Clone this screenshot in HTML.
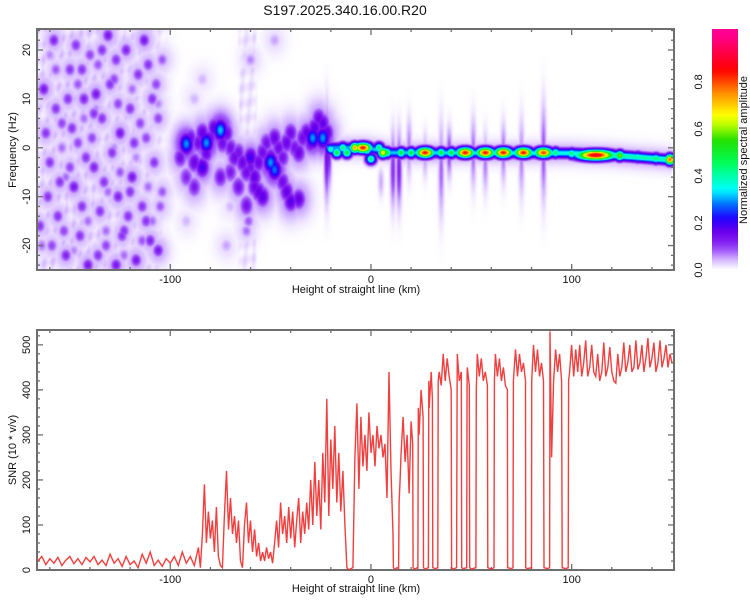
<!DOCTYPE html>
<html><head><meta charset="utf-8">
<style>
html,body{margin:0;padding:0;background:#fff;}
#wrap{position:relative;width:750px;height:600px;overflow:hidden;font-family:"Liberation Sans",sans-serif;}
#spec{position:absolute;left:37px;top:29px;}
#ov{position:absolute;left:0;top:0;}
</style></head>
<body>
<div id="wrap">
<canvas id="spec" width="637" height="241"></canvas>
<svg id="ov" width="750" height="600" xmlns="http://www.w3.org/2000/svg">
<defs><linearGradient id="cbg" x1="0" y1="1" x2="0" y2="0"></linearGradient></defs>
<text x="345" y="15" font-size="14" text-anchor="middle" fill="#111">S197.2025.340.16.00.R20</text>
<g id="topAxes"></g>
<g id="botAxes"></g>
<polyline id="snrLine" fill="none" stroke="#ee2a2a" stroke-width="1.4" stroke-opacity="0.9"></polyline>
<rect x="712" y="29" width="26" height="241" fill="url(#cbg)"></rect>
<g id="cbAxis"></g>
<text x="0" y="0" font-size="11" text-anchor="middle" transform="translate(356,293)" fill="#111">Height of straight line (km)</text>
<text x="0" y="0" font-size="11" text-anchor="middle" transform="translate(356,592)" fill="#111">Height of straight line (km)</text>
<text x="0" y="0" font-size="11" text-anchor="middle" transform="translate(16,150) rotate(-90)" fill="#111">Frequency (Hz)</text>
<text x="0" y="0" font-size="11" text-anchor="middle" transform="translate(16,450) rotate(-90)" fill="#111">SNR (10 * v/v)</text>
<text x="0" y="0" font-size="11" text-anchor="middle" transform="translate(747,150) rotate(-90)" fill="#111">Normalized spectral amplitude</text>
</svg>
</div>
<script>
// ---------- data ----------
const xTicks = [-100, 0, 100];
const freqTicks = [-20, -10, 0, 10, 20];
const snrTicks = [0, 100, 200, 300, 400, 500];
const cbTicks = [0.0, 0.2, 0.4, 0.6, 0.8];
// noise spots (km, Hz, amplitude)
const noiseX = [-163,-160,-158,-156,-154,-152,-150,-148,-146,-145,-143,-141,-140,-138,-137,-135,-134,-132,-131,-129,-128,-126,-125,-123,-122,-120,-119,-117,-116,-114,-113,-112,-110,-109,-108,-106,-106,-104,-161,-157,-153,-149,-144,-139,-133,-127,-121,-115,-111,-147,-142,-136,-130,-124,-118,-162,-155,-151,-127,-107,-165,-159,-144,-134,-120,-112,-104,-150,-138,-126,-164,-157,-152,-146,-141,-136,-131,-125,-119,-114,-109,-105,-160,-154,-148,-143,-137,-132,-128,-123,-117,-111,-106,-92,-84,-72,-62,-60,-48,-96,-88,-70,-61];
const noiseF = [12,-3,22,-14,5,-22,16,-8,1,-18,10,-24,19,-4,11,-13,6,-20,23,-1,14,-10,3,-17,20,8,-6,-23,15,-12,22,2,-19,10,-3,-21,6,-9,-10,8,-17,4,-12,2,-7,18,-14,5,17,21,-2,-22,13,-18,1,3,-7,10,-24,13,-16,-20,16,20,-9,-15,18,-4,7,9,-20,16,-6,13,-15,17,-9,-5,12,-19,-15,-12,19,0,-21,6,8,-17,0,-22,-2,-8,9,-15,14,-20,-17,18,22,-4,10,-12,-15,-10];
const noiseA = [.12,.1,.11,.1,.09,.11,.1,.12,.09,.1,.11,.12,.09,.11,.12,.1,.1,.09,.12,.1,.09,.11,.12,.1,.11,.1,.12,.12,.1,.1,.12,.09,.11,.1,.1,.12,.09,.08,.1,.1,.09,.1,.1,.09,.1,.1,.1,.09,.1,.1,.1,.1,.1,.1,.1,.1,.1,.1,.12,.09,.1,.09,.1,.1,.1,.1,.08,.09,.1,.09,.07,.08,.07,.08,.07,.08,.07,.08,.07,.08,.07,.08,.06,.07,.06,.07,.06,.07,.06,.07,.06,.07,.06,.04,.04,.05,.07,.06,.05,.04,.04,.04,.08];
// background floor by km
const floorKm = [-166,-150,-130,-110,-104,-100,-98,-67,-65,-58,-56,-40,-22,-20,150];
const floorA  = [.04,.045,.04,.035,.025,.005,0,0,.03,.03,0,0,0,0,0];
// ridge region blobs (km, Hz, amplitude)
const ridgeX = [-95,-92,-90,-88,-86,-84,-82,-80,-78,-76,-74,-72,-70,-68,-66,-64,-62,-60,-58,-56,-54,-52,-50,-48,-46,-44,-42,-40,-38,-36,-34,-32,-30,-28,-26,-24,-22,-58,-56,-54,-44,-42,-40,-36,-92,-88,-75,-70,-66,-62,-92,-82,-75,-50,-48,-29,-24,-84,-60];
const ridgeF = [-2,0,2,-3,1,3,-1,2,4,3,1,3,0,-2,-1,-3,-5,-4,-6,-3,-1,1,-2,2,0,-2,1,3,0,-1,2,3,1,4,6,5,3,-8,-9,-10,-7,-9,-11,-10.5,-6,-8,-6,-5,-8,-11.8,0.8,1,3.6,-3,-4.5,2,2,-4,-2];
const ridgeA = [.14,.17,.15,.16,.15,.17,.16,.15,.18,.17,.15,.16,.14,.15,.14,.16,.15,.14,.17,.16,.15,.14,.17,.16,.15,.14,.16,.15,.14,.16,.15,.17,.16,.18,.16,.17,.18,.16,.17,.18,.15,.17,.18,.17,.12,.13,.14,.13,.14,.14,.3,.3,.32,.3,.28,.3,.3,.2,.2];
// main ridge band
const bandKm = [-22,-2,10,100,120,150];
const bandF  = [0,0,-1,-1.1,-1.5,-2.5];
const bandA  = [.3,.32,.32,.36,.4,.4];
// main ridge peaks
const peakX = [-20,-17,-14,-12,-8,-4,-2,0,4,6,8,15,20,27,35,40,47,57,66,76,86,92,100,112,124,133,142,149];
const peakF = [-0.3,-1,0,-1,0,0,-0.5,-2.3,0,-1,-1,-1,-1,-1,-1,-1,-1,-1,-1,-1,-1,-1,-1.2,-1.5,-1.6,-1.9,-2.2,-2.4];
const peakA = [.4,.5,.45,.5,.75,.85,.45,.45,.45,.7,.5,.5,.5,.85,.5,.5,.85,.85,.85,.85,.82,.45,.45,.9,.6,.4,.45,.8];
// vertical streaks (km, Hz low, Hz high, amplitude)
const streakX = [-22,-21,5,11,14,19,27,35,39,51,57,66,75,86];
const streakLo = [-10,-8,-10,-12,-12,-6,-6,-14,-6,-8,-9,-7,-10,-11];
const streakHi = [8,6,-4,3,3,6,3,5,4,6,3,5,6,9];
const streakA = [.15,.13,.05,.11,.12,.07,.06,.08,.1,.08,.07,.08,.07,.09];
// SNR trace
const snrKm = [-166,-164,-162,-160,-158,-156,-154,-152,-150,-148,-146,-144,-142,-140,-138,-136,-134,-132,-130,-128,-126,-124,-122,-120,-118,-116,-114,-112,-110,-108,-106,-104,-102,-100,-98,-96,-94,-92,-90,-88,-86,-85,-84,-83,-82,-81,-80,-79,-78,-77,-76,-75,-74,-73,-72,-71,-70,-69,-68,-67,-66,-65,-64,-63,-62,-61,-60,-59,-58,-57,-56,-55,-54,-53,-52,-51,-50,-49,-48,-47,-46,-45,-44,-43,-42,-41,-40,-39,-38,-37,-36,-35,-34,-33,-32,-31,-30,-29,-28,-27,-26,-25,-24,-23,-22,-21,-20,-19,-18,-17,-16,-15,-14,-13,-12,-11,-10,-9,-8,-7,-6,-5,-4,-3,-2,-1,0,1,2,3,4,5,6,7,8,9,10,11,11.2,12,13,13.8,14,14.5,15,16,17,18,19,20,20.8,21,22,23,23.4,23.6,24,25,26,26.2,27,28,28.6,28.8,29,30,30.6,30.8,32,33.3,33.5,34,35,36,37,38,39,40,40.2,41,42.7,42.9,43,44,45,45.2,46,47.7,47.9,48,49,49.2,50,52.3,52.5,53,54,55,56,57,58,58.2,60,61.3,61.5,62,63,64,65,66,67,68,68.1,70,70.8,71,72,73,74,75,76,77,77.1,78,80,80.1,81,82,83,84,85,86,86.2,88,89,89.2,90,91,92,93,94,95,95.3,97,98.3,98.5,99,100,101,102,103,104,105,106,107,108,109,110,111,112,113,114,115,116,117,118,119,120,121,122,123,124,125,126,127,128,129,130,131,132,133,134,135,136,137,138,139,140,141,142,143,144,145,146,147,148,149,150];
const snrVal = [20,30,12,25,15,28,10,22,30,14,25,12,28,18,30,12,22,10,35,15,25,8,30,12,20,5,35,15,40,10,22,8,25,15,30,10,40,15,30,10,50,5,80,190,60,130,70,110,40,140,30,10,5,120,220,90,160,80,120,60,110,20,5,100,150,60,110,40,90,30,60,20,40,20,50,25,40,15,60,110,50,150,80,120,60,140,70,130,50,110,160,60,130,80,150,90,200,100,240,120,200,90,260,150,380,120,290,180,320,150,260,130,220,100,5,0,3,5,250,370,180,340,230,300,220,350,260,300,230,320,270,300,250,280,160,440,220,80,5,2,5,3,150,200,260,340,240,300,170,330,280,5,2,5,4,360,300,400,340,5,2,4,5,420,360,440,380,5,3,5,420,440,410,480,420,470,430,400,5,2,5,400,480,420,440,5,3,5,430,450,410,5,2,5,400,480,430,470,420,440,410,5,2,5,420,480,430,470,420,450,410,400,5,3,5,420,490,430,480,440,460,420,5,3,5,420,500,440,490,430,460,420,5,3,5,530,250,420,490,440,480,420,5,3,5,420,440,500,430,490,440,500,430,460,510,430,450,500,440,430,480,420,440,505,430,450,495,440,420,415,480,430,450,505,440,460,500,440,450,510,445,460,500,440,470,515,450,470,505,440,460,510,450,470,500,450,480,460];

// ---------- scales ----------
const L = 37, R = 674, W = R - L;
const TT = 29, TB = 270, BT = 330, BB = 570;
const X0 = -166.4, X1 = 151.0;
const F0 = -25.0, F1 = 24.3;
const S0 = 0, S1 = 533;
const xs = k => L + (k - X0) / (X1 - X0) * W;
const fy = f => TB - (f - F0) / (F1 - F0) * (TB - TT);
const sy = s => BB - (s - S0) / (S1 - S0) * (BB - BT);

// ---------- colormap ----------
const cmStops = [[0,[255,255,255]],[0.02,[236,223,255]],[0.05,[205,170,255]],[0.08,[165,95,250]],[0.12,[130,30,240]],[0.16,[110,0,235]],[0.22,[32,0,255]],[0.28,[0,112,255]],[0.34,[0,255,255]],[0.45,[0,255,96]],[0.55,[32,224,0]],[0.62,[192,255,0]],[0.66,[255,255,0]],[0.75,[255,144,0]],[0.85,[255,0,0]],[1.0,[255,0,144]]];
function cmap(v){
  if (v <= 0) return cmStops[0][1];
  for (let i = 1; i < cmStops.length; i++) {
    if (v <= cmStops[i][0]) {
      const a = cmStops[i-1], b = cmStops[i], t = (v - a[0]) / (b[0] - a[0]);
      return [0,1,2].map(j => Math.round(a[1][j] + (b[1][j] - a[1][j]) * t));
    }
  }
  return cmStops[cmStops.length-1][1];
}
function interp(xsArr, ysArr, x){
  if (x <= xsArr[0]) return ysArr[0];
  for (let i = 1; i < xsArr.length; i++) if (x <= xsArr[i]) {
    const t = (x - xsArr[i-1]) / (xsArr[i] - xsArr[i-1]); return ysArr[i-1] + (ysArr[i] - ysArr[i-1]) * t;
  }
  return ysArr[ysArr.length-1];
}

// ---------- spectrogram ----------
(function(){
  const cv = document.getElementById('spec'), ctx = cv.getContext('2d');
  const CW = cv.width, CH = cv.height;
  const field = new Float32Array(CW*CH);
  const kmAt = i => X0 + (i + 0.5) / CW * (X1 - X0);
  const hzAt = j => F1 - (j + 0.5) / CH * (F1 - F0);
  function blob(k, f, a, sxKm, syHz){
    const cx = xs(k) - L, cy = fy(f) - TT;
    const sxp = sxKm / (X1 - X0) * CW, syp = syHz / (F1 - F0) * CH;
    const i0 = Math.max(0, Math.floor(cx - 3*sxp)), i1 = Math.min(CW-1, Math.ceil(cx + 3*sxp));
    const j0 = Math.max(0, Math.floor(cy - 3*syp)), j1 = Math.min(CH-1, Math.ceil(cy + 3*syp));
    for (let j = j0; j <= j1; j++) {
      const dy = (j + 0.5 - cy) / syp;
      for (let i = i0; i <= i1; i++) {
        const dx = (i + 0.5 - cx) / sxp;
        const v = a * Math.exp(-0.5*(dx*dx + dy*dy));
        const id = j*CW + i; if (v > field[id]) field[id] = v;
      }
    }
  }
  for (let i = 0; i < CW; i++) {
    const fa = interp(floorKm, floorA, kmAt(i));
    for (let j = 0; j < CH; j++) {
      const m = 0.55 + 0.45*Math.cos(j*0.23 + i*0.41) * Math.cos(j*0.17 - i*0.31);
      field[j*CW+i] = fa * m;
    }
  }
  for (let n = 0; n < noiseX.length; n++) { blob(noiseX[n], noiseF[n], noiseA[n]*0.5, 4.0, 2.2); blob(noiseX[n], noiseF[n], noiseA[n]*1.1, 2.0, 1.0); }
  for (let n = 0; n < ridgeX.length; n++) { blob(ridgeX[n], ridgeF[n], ridgeA[n]*0.45, 4.5, 2.8); blob(ridgeX[n], ridgeF[n], ridgeA[n], 2.4, 1.5); }
  for (let n = 0; n < streakX.length; n++) blob(streakX[n], (streakLo[n]+streakHi[n])/2, streakA[n], 1.0, (streakHi[n]-streakLo[n])/3);
  for (let i = 0; i < CW; i++) {
    const k = kmAt(i); if (k < bandKm[0] || k > bandKm[bandKm.length-1]) continue;
    const bf = interp(bandKm, bandF, k), ba = interp(bandKm, bandA, k);
    for (let j = 0; j < CH; j++) {
      const d = hzAt(j) - bf;
      const v = Math.max(ba*Math.exp(-0.5*(d/0.7)**2), 0.06*Math.exp(-0.5*(d/1.6)**2));
      const id = j*CW+i; if (v > field[id]) field[id] = v;
    }
  }
  for (let n = 0; n < peakX.length; n++) {
    const sx = (peakX[n] === 112) ? 7 : (peakA[n] > 0.8 ? 3.2 : 1.8);
    blob(peakX[n], peakF[n], peakA[n], sx, 0.75);
  }
  const img = ctx.createImageData(CW, CH);
  for (let p = 0; p < CW*CH; p++) {
    const c = cmap(field[p]);
    img.data[p*4] = c[0]; img.data[p*4+1] = c[1]; img.data[p*4+2] = c[2]; img.data[p*4+3] = 255;
  }
  ctx.putImageData(img, 0, 0);
})();

// ---------- axes ----------
const NS = 'http://www.w3.org/2000/svg';
function mk(tag, attrs, parent){ const e = document.createElementNS(NS, tag); for (const k in attrs) e.setAttribute(k, attrs[k]); parent.appendChild(e); return e; }
function frame(g, top, bot, name){
  const r = mk('rect', {x:L, y:top, width:W, height:bot-top, fill:'none', stroke:'#6e6e6e', 'stroke-width':2}, g);
  
  
  for (let k = -160; k <= 140; k += 20) {
    const x = xs(k), len = (k % 100 === 0) ? 6 : 3;
    mk('line', {x1:x, y1:bot, x2:x, y2:bot-len, stroke:'#6e6e6e', 'stroke-width':1.3}, g);
    mk('line', {x1:x, y1:top, x2:x, y2:top+len, stroke:'#6e6e6e', 'stroke-width':1.3}, g);
  }
  xTicks.forEach(k => {
    const t = mk('text', {x:xs(k), y:bot+13, 'font-size':11, 'text-anchor':'middle', fill:'#111'}, g);
    t.textContent = k;
    
    
  });
}
const tg = document.getElementById('topAxes');
frame(tg, TT, TB, 'spectrogram-frame');
for (let f = -24; f <= 24; f += 2) {
  const y = fy(f), len = (f % 10 === 0) ? 6 : 3;
  mk('line', {x1:L, y1:y, x2:L+len, y2:y, stroke:'#6e6e6e', 'stroke-width':1.3}, tg);
  mk('line', {x1:R, y1:y, x2:R-len, y2:y, stroke:'#6e6e6e', 'stroke-width':1.3}, tg);
}
freqTicks.forEach(f => {
  const t = mk('text', {x:0, y:0, 'font-size':11, 'text-anchor':'middle', fill:'#111', transform:`translate(30,${fy(f)}) rotate(-90)`}, tg);
  t.textContent = f;
  
  
});
const bg = document.getElementById('botAxes');
frame(bg, BT, BB, 'snr-frame');
for (let s = 0; s <= 520; s += 20) {
  const y = sy(s), len = (s % 100 === 0) ? 6 : 3;
  mk('line', {x1:L, y1:y, x2:L+len, y2:y, stroke:'#6e6e6e', 'stroke-width':1.3}, bg);
  mk('line', {x1:R, y1:y, x2:R-len, y2:y, stroke:'#6e6e6e', 'stroke-width':1.3}, bg);
}
snrTicks.forEach(s => {
  const t = mk('text', {x:0, y:0, 'font-size':11, 'text-anchor':'middle', fill:'#111', transform:`translate(30,${sy(s)}) rotate(-90)`}, bg);
  t.textContent = s;
  
  
});

document.getElementById('snrLine').setAttribute('points', snrKm.map((k,i) => xs(k).toFixed(1) + ',' + sy(snrVal[i]).toFixed(1)).join(' '));

const cbTop = 29, cbBot = 270, cbMax = 1.025;
const grad = document.getElementById('cbg');
for (let n = 0; n <= 50; n++) {
  const v = n/50*cbMax, c = cmap(Math.min(v, 1));
  mk('stop', {offset:(n/50).toFixed(3), 'stop-color':`rgb(${c[0]},${c[1]},${c[2]})`}, grad);
}
const cg = document.getElementById('cbAxis');
cbTicks.forEach(v => {
  const y = cbBot - v / cbMax * (cbBot - cbTop);
  const t = mk('text', {x:0, y:0, 'font-size':11, 'text-anchor':'middle', fill:'#111', transform:`translate(702,${y}) rotate(-90)`}, cg);
  t.textContent = v.toFixed(1);
  
  
});
</script>
</body></html>
